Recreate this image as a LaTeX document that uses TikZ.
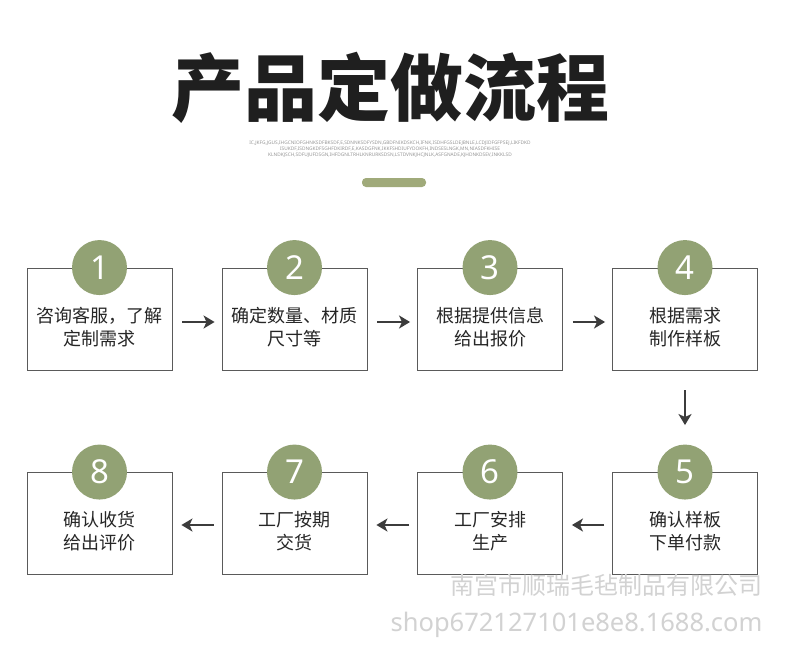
\documentclass[tikz,border=0pt]{standalone}
\usepackage{fontspec}
\setmainfont{Noto Sans}
\newfontfamily\cjk{Noto Sans CJK SC}
\usetikzlibrary{arrows.meta}
\definecolor{olive}{RGB}{146,162,116}
\definecolor{bar}{RGB}{160,170,122}
\definecolor{boxline}{RGB}{90,90,90}
\definecolor{arr}{RGB}{60,60,60}
\definecolor{wm}{RGB}{210,210,210}
\definecolor{tiny}{RGB}{150,150,150}
\begin{document}
\begin{tikzpicture}[x=1pt,y=-1pt,
  stepbox/.style={draw=boxline,line width=0.9pt,minimum width=145pt,minimum height=102pt,inner sep=0pt},
  badge/.style={circle,fill=olive,minimum size=55pt,inner sep=0pt,text=white,font=\fontsize{33}{33}\selectfont},
  lbl/.style={align=center,font=\cjk\fontsize{18}{23}\selectfont,text=black!85},
  flow/.style={draw=arr,line width=2.4pt,-{Stealth[length=11pt,width=13pt,inset=3pt]}},
  tinytxt/.style={font=\fontsize{4.8}{6}\selectfont,text=tiny,inner sep=0pt}]
\useasboundingbox (0,0) rectangle (790,654);
\fill[white] (0,0) rectangle (790,654);
% title
\node[font=\cjk\bfseries\fontsize{73}{73}\selectfont,text=black!88] (title) at (390,88) {产品定做流程};
\node[tinytxt] (s1) at (390,143) {IC,JKFG,JGUS,IHGCNIOFGHNKSDFBKSDF,E,SDNNKSDFYSDN,GBDFNIKDSKCH,IFNK,ISDHFGSLDEJBNLE,LCDJIDFGFPSEJ,LIKFDKD};
\node[tinytxt] (s2) at (390,149) {ISUKDF,ISDNGKDFSGHFDKIRDF,E,KASDGFNK,IKKFSHDIUFYDOKFH,INDSESLNGK,MN,NIASDFKHISE};
\node[tinytxt] (s3) at (390,155) {KLNDKJSCH,SDFUJUFDSGN,IHFDGNLTRHLKNRURKSDSN,LSTDVNKJHCJNLK,ASFGNADE,KJHDNKDSEV,INKKLSD};
\fill[bar,rounded corners=4pt] (362,178) rectangle (426,187);
% boxes row 1
\node[stepbox] (b1) at (99.5,319) {};
\node[stepbox] (b2) at (294.5,319) {};
\node[stepbox] (b3) at (490,319) {};
\node[stepbox] (b4) at (685,319) {};
% boxes row 2
\node[stepbox] (b8) at (99.5,523.5) {};
\node[stepbox] (b7) at (294.5,523.5) {};
\node[stepbox] (b6) at (490,523.5) {};
\node[stepbox] (b5) at (685,523.5) {};
% badges
\node[badge] (c1) at (b1.north) {1};
\node[badge] (c2) at (b2.north) {2};
\node[badge] (c3) at (b3.north) {3};
\node[badge] (c4) at (b4.north) {4};
\node[badge] (c5) at (b5.north) {5};
\node[badge] (c6) at (b6.north) {6};
\node[badge] (c7) at (b7.north) {7};
\node[badge] (c8) at (b8.north) {8};
% labels
\node[lbl] (t1) at ([yshift=-8pt]b1.center) {咨询客服，了解\\定制需求};
\node[lbl] (t2) at ([yshift=-8pt]b2.center) {确定数量、材质\\尺寸等};
\node[lbl] (t3) at ([yshift=-8pt]b3.center) {根据提供信息\\给出报价};
\node[lbl] (t4) at ([yshift=-8pt]b4.center) {根据需求\\制作样板};
\node[lbl] (t5) at ([yshift=-8pt]b5.center) {确认样板\\下单付款};
\node[lbl] (t6) at ([yshift=-8pt]b6.center) {工厂安排\\生产};
\node[lbl] (t7) at ([yshift=-8pt]b7.center) {工厂按期\\交货};
\node[lbl] (t8) at ([yshift=-8pt]b8.center) {确认收货\\给出评价};
% arrows
\draw[flow] ([xshift=10pt,yshift=-3pt]b1.east) -- ([xshift=-7pt,yshift=-3pt]b2.west);
\draw[flow] ([xshift=10pt,yshift=-3pt]b2.east) -- ([xshift=-7pt,yshift=-3pt]b3.west);
\draw[flow] ([xshift=10pt,yshift=-3pt]b3.east) -- ([xshift=-7pt,yshift=-3pt]b4.west);
\draw[flow] ([yshift=-20pt]b4.south) -- ([yshift=47pt]b5.north);
\draw[flow] ([xshift=-8pt,yshift=-1.5pt]b5.west) -- ([xshift=9pt,yshift=-1.5pt]b6.east);
\draw[flow] ([xshift=-8pt,yshift=-1.5pt]b6.west) -- ([xshift=9pt,yshift=-1.5pt]b7.east);
\draw[flow] ([xshift=-8pt,yshift=-1.5pt]b7.west) -- ([xshift=9pt,yshift=-1.5pt]b8.east);
% watermark
\node[font=\cjk\fontsize{24}{24}\selectfont,text=wm,anchor=east] (w1) at (766,585) {南宫市顺瑞毛毡制品有限公司};
\node[font=\fontsize{25.5}{25.5}\selectfont,text=wm,anchor=east] (w2) at (766,625) {shop672127101e8e8.1688.com};
\end{tikzpicture}
\end{document}
